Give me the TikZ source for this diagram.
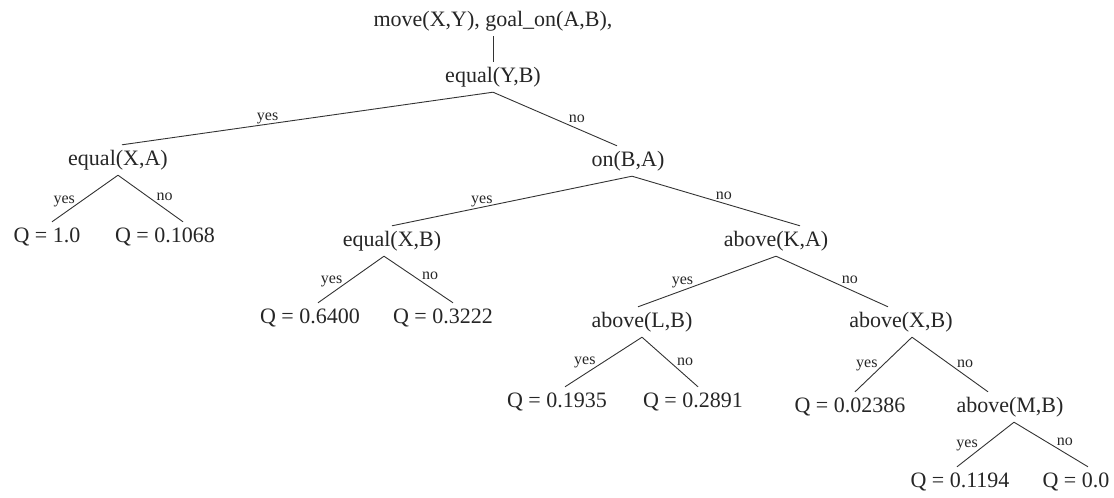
\documentclass[tikz,border=0pt]{standalone}
\usepackage{fontspec}
\setmainfont{Liberation Serif}
\usetikzlibrary{positioning}

\begin{document}
\begin{tikzpicture}[x=1pt, y=-1pt,
  tnode/.style={font=\fontsize{22}{26}\selectfont, text=black!85, inner sep=4.5pt, text height=16pt, text depth=5pt},
  lbl/.style={font=\fontsize{16}{18}\selectfont, text=black!85, inner sep=1pt, text depth=0pt},
  ast/.style={draw=black!80, line width=0.9pt}]

\useasboundingbox (0,0) rectangle (1114,498);

% Wurzel
\node[tnode] (root) at (493,21) {move(X,Y), goal\_on(A,B),};
\node[tnode] (eqYB) at (493,77) {equal(Y,B)};

% Ebene 1
\node[tnode] (eqXA) at (118,160) {equal(X,A)};
\node[tnode] (onBA) at (628,161) {on(B,A)};

% Ebene 2
\node[tnode] (q1) at (47,237) {Q = 1.0};
\node[tnode] (q2) at (165,237) {Q = 0.1068};
\node[tnode] (eqXB) at (392,241) {equal(X,B)};
\node[tnode] (abKA) at (776,241) {above(K,A)};

% Ebene 3
\node[tnode] (q3) at (310,318) {Q = 0.6400};
\node[tnode] (q4) at (443,318) {Q = 0.3222};
\node[tnode] (abLB) at (642,322) {above(L,B)};
\node[tnode] (abXB) at (901,322) {above(X,B)};

% Ebene 4
\node[tnode] (q5) at (557,402) {Q = 0.1935};
\node[tnode] (q6) at (693,402) {Q = 0.2891};
\node[tnode] (q7) at (850,407) {Q = 0.02386};
\node[tnode] (abMB) at (1010,407) {above(M,B)};

% Ebene 5
\node[tnode] (q8) at (960,482) {Q = 0.1194};
\node[tnode] (q9) at (1076,482) {Q = 0.0};

% Kanten
\draw[ast] (root.south) -- (eqYB.north);
\draw[ast] (eqYB.south) -- ([xshift=4]eqXA.north) node[lbl, pos=0.575, anchor=south east] {yes};
\draw[ast] (eqYB.south) -- ([xshift=-11]onBA.north) node[lbl, pos=0.6, anchor=south west] {no};

\draw[ast] (eqXA.south) -- ([xshift=5]q1.north) node[lbl, pos=0.63, anchor=south east] {yes};
\draw[ast] (eqXA.south) -- ([xshift=18]q2.north) node[lbl, pos=0.57, anchor=south west] {no};

\draw[ast] ([xshift=4]onBA.south) -- (eqXB.north) node[lbl, pos=0.575, anchor=south east] {yes};
\draw[ast] ([xshift=4]onBA.south) -- ([xshift=24]abKA.north) node[lbl, pos=0.49, anchor=south west] {no};

\draw[ast] ([xshift=-8]eqXB.south) -- ([xshift=8]q3.north) node[lbl, pos=0.61, anchor=south east] {yes};
\draw[ast] ([xshift=-8]eqXB.south) -- ([xshift=10]q4.north) node[lbl, pos=0.53, anchor=south west] {no};

\draw[ast] (abKA.south) -- ([xshift=-4]abLB.north) node[lbl, pos=0.59, anchor=south east] {yes};
\draw[ast] (abKA.south) -- ([xshift=-13]abXB.north) node[lbl, pos=0.575, anchor=south west] {no};

\draw[ast] (abLB.south) -- ([xshift=8]q5.north) node[lbl, pos=0.585, anchor=south east] {yes};
\draw[ast] (abLB.south) -- ([xshift=5]q6.north) node[lbl, pos=0.6, anchor=south west] {no};

\draw[ast] ([xshift=11]abXB.south) -- ([xshift=5]q7.north) node[lbl, pos=0.58, anchor=south east] {yes};
\draw[ast] ([xshift=11]abXB.south) -- ([xshift=-22]abMB.north) node[lbl, pos=0.575, anchor=south west] {no};

\draw[ast] ([xshift=4]abMB.south) -- ([xshift=-3]q8.north) node[lbl, pos=0.61, anchor=south east] {yes};
\draw[ast] ([xshift=4]abMB.south) -- ([xshift=12]q9.north) node[lbl, pos=0.56, anchor=south west] {no};

\end{tikzpicture}
\end{document}
